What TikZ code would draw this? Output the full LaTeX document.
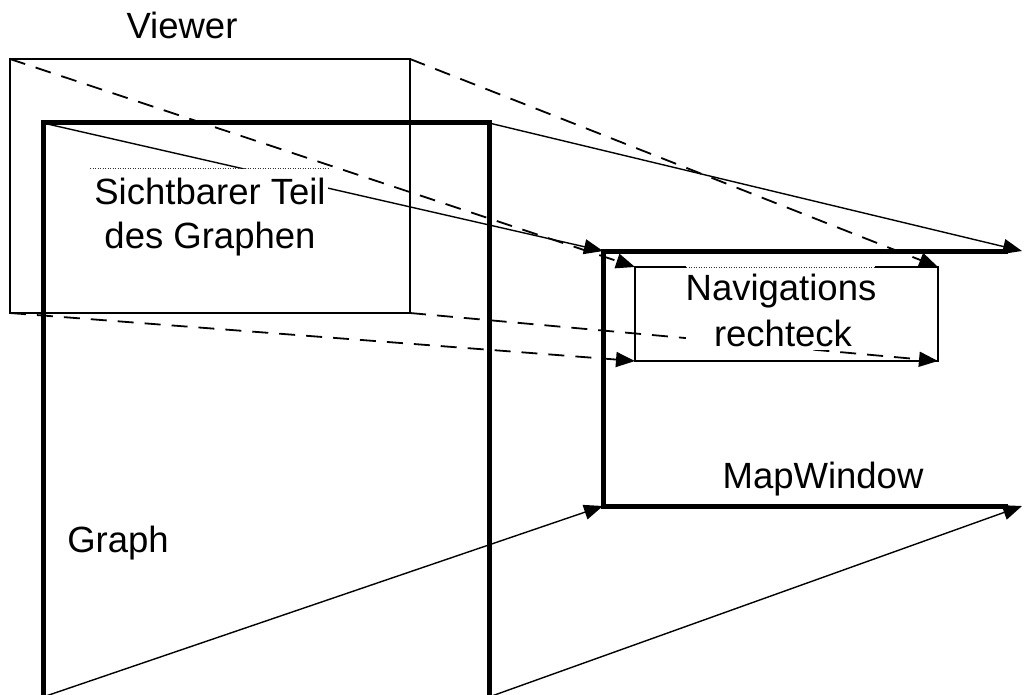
\documentclass[tikz,border=0pt]{standalone}
\usepackage{fontspec}
\setmainfont{Liberation Sans}
\usetikzlibrary{arrows.meta}
\begin{document}
\begin{tikzpicture}[x=1pt,y=-1pt,
  frame/.style={line width=5pt},
  thinbox/.style={line width=1.6pt},
  link/.style={line width=1.4pt,-{Triangle[length=19pt,width=15pt]}},
  dlink/.style={link,line width=1.8pt,dash pattern=on 16pt off 11pt},
  lbl/.style={font=\fontsize{36.5}{40}\selectfont,inner sep=0pt,anchor=base},
  cover/.style={fill=white,draw=none,inner sep=0pt,anchor=north west},
  dotrule/.style={line width=1pt,dash pattern=on 1pt off 1.5pt,black!80}]
\useasboundingbox (0,0) rectangle (1024,695);

% corners of the viewer window
\coordinate (vTL) at (10,59);
\coordinate (vTR) at (410,59);
\coordinate (vBR) at (410,313);
\coordinate (vBL) at (10,313);
% corners of the graph
\coordinate (gTL) at (43,123);
\coordinate (gTR) at (489,123);
\coordinate (gBR) at (489,697);
\coordinate (gBL) at (43,697);
% corners of the map window
\coordinate (mTL) at (603,251);
\coordinate (mTR) at (1022,251);
\coordinate (mBR) at (1022,506);
\coordinate (mBL) at (603,506);
% corners of the navigation rectangle
\coordinate (nTL) at (635,267);
\coordinate (nTR) at (938,267);
\coordinate (nBR) at (938,361);
\coordinate (nBL) at (635,361);

% projection of the viewer onto the navigation rectangle
\draw[dlink] (vTL) -- (nTL);
\draw[dlink] (vTR) -- (nTR);
\draw[dlink] (vBL) -- (nBL);
\draw[dlink] (vBR) -- (nBR);
% projection of the graph onto the map window
\draw[link] (gTL) -- (mTL);
\draw[link] (gTR) -- (mTR);
\draw[link] (gBL) -- (mBL);
\draw[link] (gBR) -- (mBR);

% frames
\draw[thinbox] (vTL) rectangle (vBR);
\draw[frame] (gTL) rectangle (gBR);
\draw[frame,shorten <=14pt,shorten >=14pt] (mTR) -- (mTL) -- (mBL) -- (mBR);
\draw[thinbox] (nTL) rectangle (nBR);

% text boxes
\node[cover,minimum width=238pt,minimum height=92pt] (sichtbox) at (90,169) {};
\draw[dotrule] (sichtbox.north west) -- (sichtbox.north east);
\node[cover,minimum width=189pt,minimum height=84pt] (navbox) at (686,266) {};
\draw[dotrule] (686,267) -- (875,267);

% labels
\node[lbl] (viewer) at (182,39) {Viewer};
\node[lbl] (sicht1) at (210,204) {Sichtbarer Teil};
\node[lbl] (sicht2) at (210,248) {des Graphen};
\node[lbl] (nav1) at (781,300) {Navigations};
\node[lbl] (nav2) at (783,346) {rechteck};
\node[lbl] (mapwin) at (823,488) {MapWindow};
\node[lbl] (graph) at (118,552) {Graph};
\end{tikzpicture}
\end{document}
